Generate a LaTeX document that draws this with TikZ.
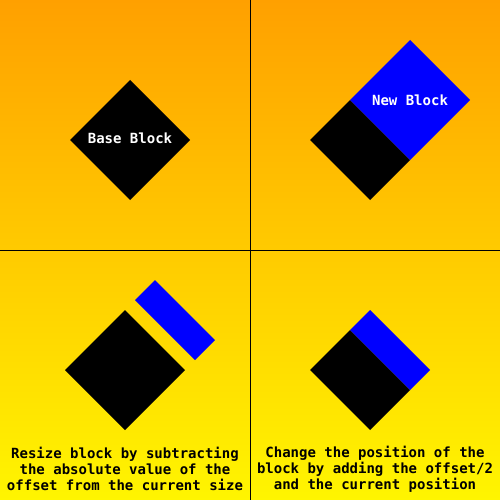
\documentclass[tikz,border=0pt]{standalone}
\usepackage{fontspec}
\setmonofont{DejaVu Sans Mono}
\definecolor{bgtop}{RGB}{255,160,0}
\definecolor{bgbot}{RGB}{255,245,0}
\definecolor{newblue}{RGB}{0,0,255}
\tikzset{
  blockblack/.style={fill=black, draw=none},
  blockblue/.style={fill=newblue, draw=none},
  divider/.style={draw=black, line width=1pt},
  blocklabel/.style={text=white, font=\ttfamily\bfseries\fontsize{14}{16}\selectfont, inner sep=0pt},
  caption/.style={text=black, font=\ttfamily\bfseries\fontsize{14}{16}\selectfont, align=center, inner sep=0pt},
}
\begin{document}
\begin{tikzpicture}[x=1pt,y=-1pt]
\useasboundingbox (0,0) rectangle (500,500);
\shade[top color=bgtop, bottom color=bgbot] (0,0) rectangle (500,500);
% dividers
\coordinate (vt) at (250,0); \coordinate (vb) at (250,500);
\coordinate (hl) at (0,250); \coordinate (hr) at (500,250);
\draw[divider] (vt) -- (vb);
\draw[divider] (hl) -- (hr);
% top-left: base block
\fill[blockblack] (130,80) -- (190,140) -- (130,200) -- (70,140) -- cycle;
\node[blocklabel] (base) at (130,138) {Base Block};
% top-right
\fill[blockblack] (310,140) -- (350,100) -- (410,160) -- (370,200) -- cycle;
\fill[blockblue] (350,100) -- (410,40) -- (470,100) -- (410,160) -- cycle;
\node[blocklabel] (new) at (410,100) {New Block};
% bottom-left
\fill[blockblack] (125,310) -- (185,370) -- (125,430) -- (65,370) -- cycle;
\fill[blockblue] (135,300) -- (155,280) -- (215,340) -- (195,360) -- cycle;
\node[caption] (capl) at (125,469) {Resize block by subtracting\\the absolute value of the\\offset from the current size};
% bottom-right
\fill[blockblack] (310,370) -- (350,330) -- (410,390) -- (370,430) -- cycle;
\fill[blockblue] (350,330) -- (370,310) -- (430,370) -- (410,390) -- cycle;
\node[caption] (capr) at (375,469) {Change the position of the\\block by adding the offset/2\\and the current position};
\end{tikzpicture}
\end{document}
